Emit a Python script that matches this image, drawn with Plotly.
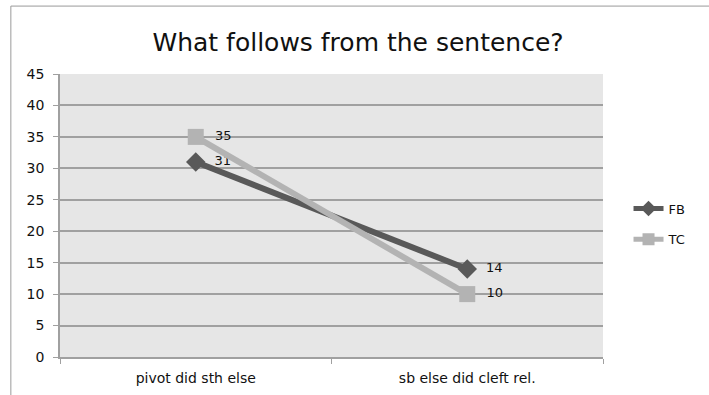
import plotly.graph_objects as go

categories = ["pivot did sth else", "sb else did cleft rel."]
fb_values = [31, 14]
tc_values = [35, 10]
y_ticks = [0, 5, 10, 15, 20, 25, 30, 35, 40, 45]

FONT = "DejaVu Sans"
PAD = "\u00a0\u00a0"
fig = go.Figure()

fig.add_trace(go.Scatter(
    x=categories, y=fb_values, name="FB", legendgroup="fb",
    mode="lines+markers+text",
    line=dict(color="#595959", width=6),
    marker=dict(symbol="diamond", size=15, color="#595959"),
    text=[PAD + str(v) for v in fb_values], textposition="middle right",
    textfont=dict(family=FONT, size=13, color="#111111"),
))
fig.add_trace(go.Scatter(
    x=categories, y=tc_values, name="TC", legendgroup="tc",
    mode="lines+markers+text",
    line=dict(color="#b3b3b3", width=6),
    marker=dict(symbol="square", size=16, color="#b3b3b3"),
    text=[PAD + str(v) for v in tc_values], textposition="middle right",
    textfont=dict(family=FONT, size=13, color="#111111"),
))

# outer chart frame
fig.add_shape(type="rect", xref="paper", yref="paper",
              x0=-0.0905, x1=1.4, y0=-0.4, y1=1.24,
              line=dict(color="#9a9a9a", width=1), layer="below")

fig.update_layout(
    width=709, height=395,
    margin=dict(l=60, r=106, t=74, b=38, autoexpand=False),
    paper_bgcolor="white",
    plot_bgcolor="#e6e6e6",
    title=dict(text="What follows from the sentence?", x=0.505, xanchor="center",
               xref="container", y=0.893, yanchor="middle",
               font=dict(family=FONT, size=25, color="#111111")),
    font=dict(family=FONT, size=13, color="#111111"),
    showlegend=True,
    legend=dict(x=1.047, y=0.47, xanchor="left", yanchor="middle",
                bgcolor="rgba(0,0,0,0)", font=dict(size=13),
                traceorder="grouped", tracegroupgap=11,
                itemwidth=30, itemsizing="constant"),
    xaxis=dict(type="category", showgrid=False, showline=True,
               linecolor="#a0a0a0", linewidth=1.5,
               ticks="outside", ticklen=5, tickcolor="#a0a0a0",
               tickson="boundaries", range=[-0.5, 1.5],
               ticklabelstandoff=7,
               tickfont=dict(size=14)),
    yaxis=dict(range=[0, 45], tickvals=y_ticks, showgrid=True,
               gridcolor="#a0a0a0", gridwidth=1.5,
               showline=True, linecolor="#a0a0a0", linewidth=1.5,
               ticks="outside", ticklen=5, tickcolor="#a0a0a0",
               ticklabelstandoff=6,
               zeroline=False, tickfont=dict(size=14)),
)

fig.write_html("out.html")
